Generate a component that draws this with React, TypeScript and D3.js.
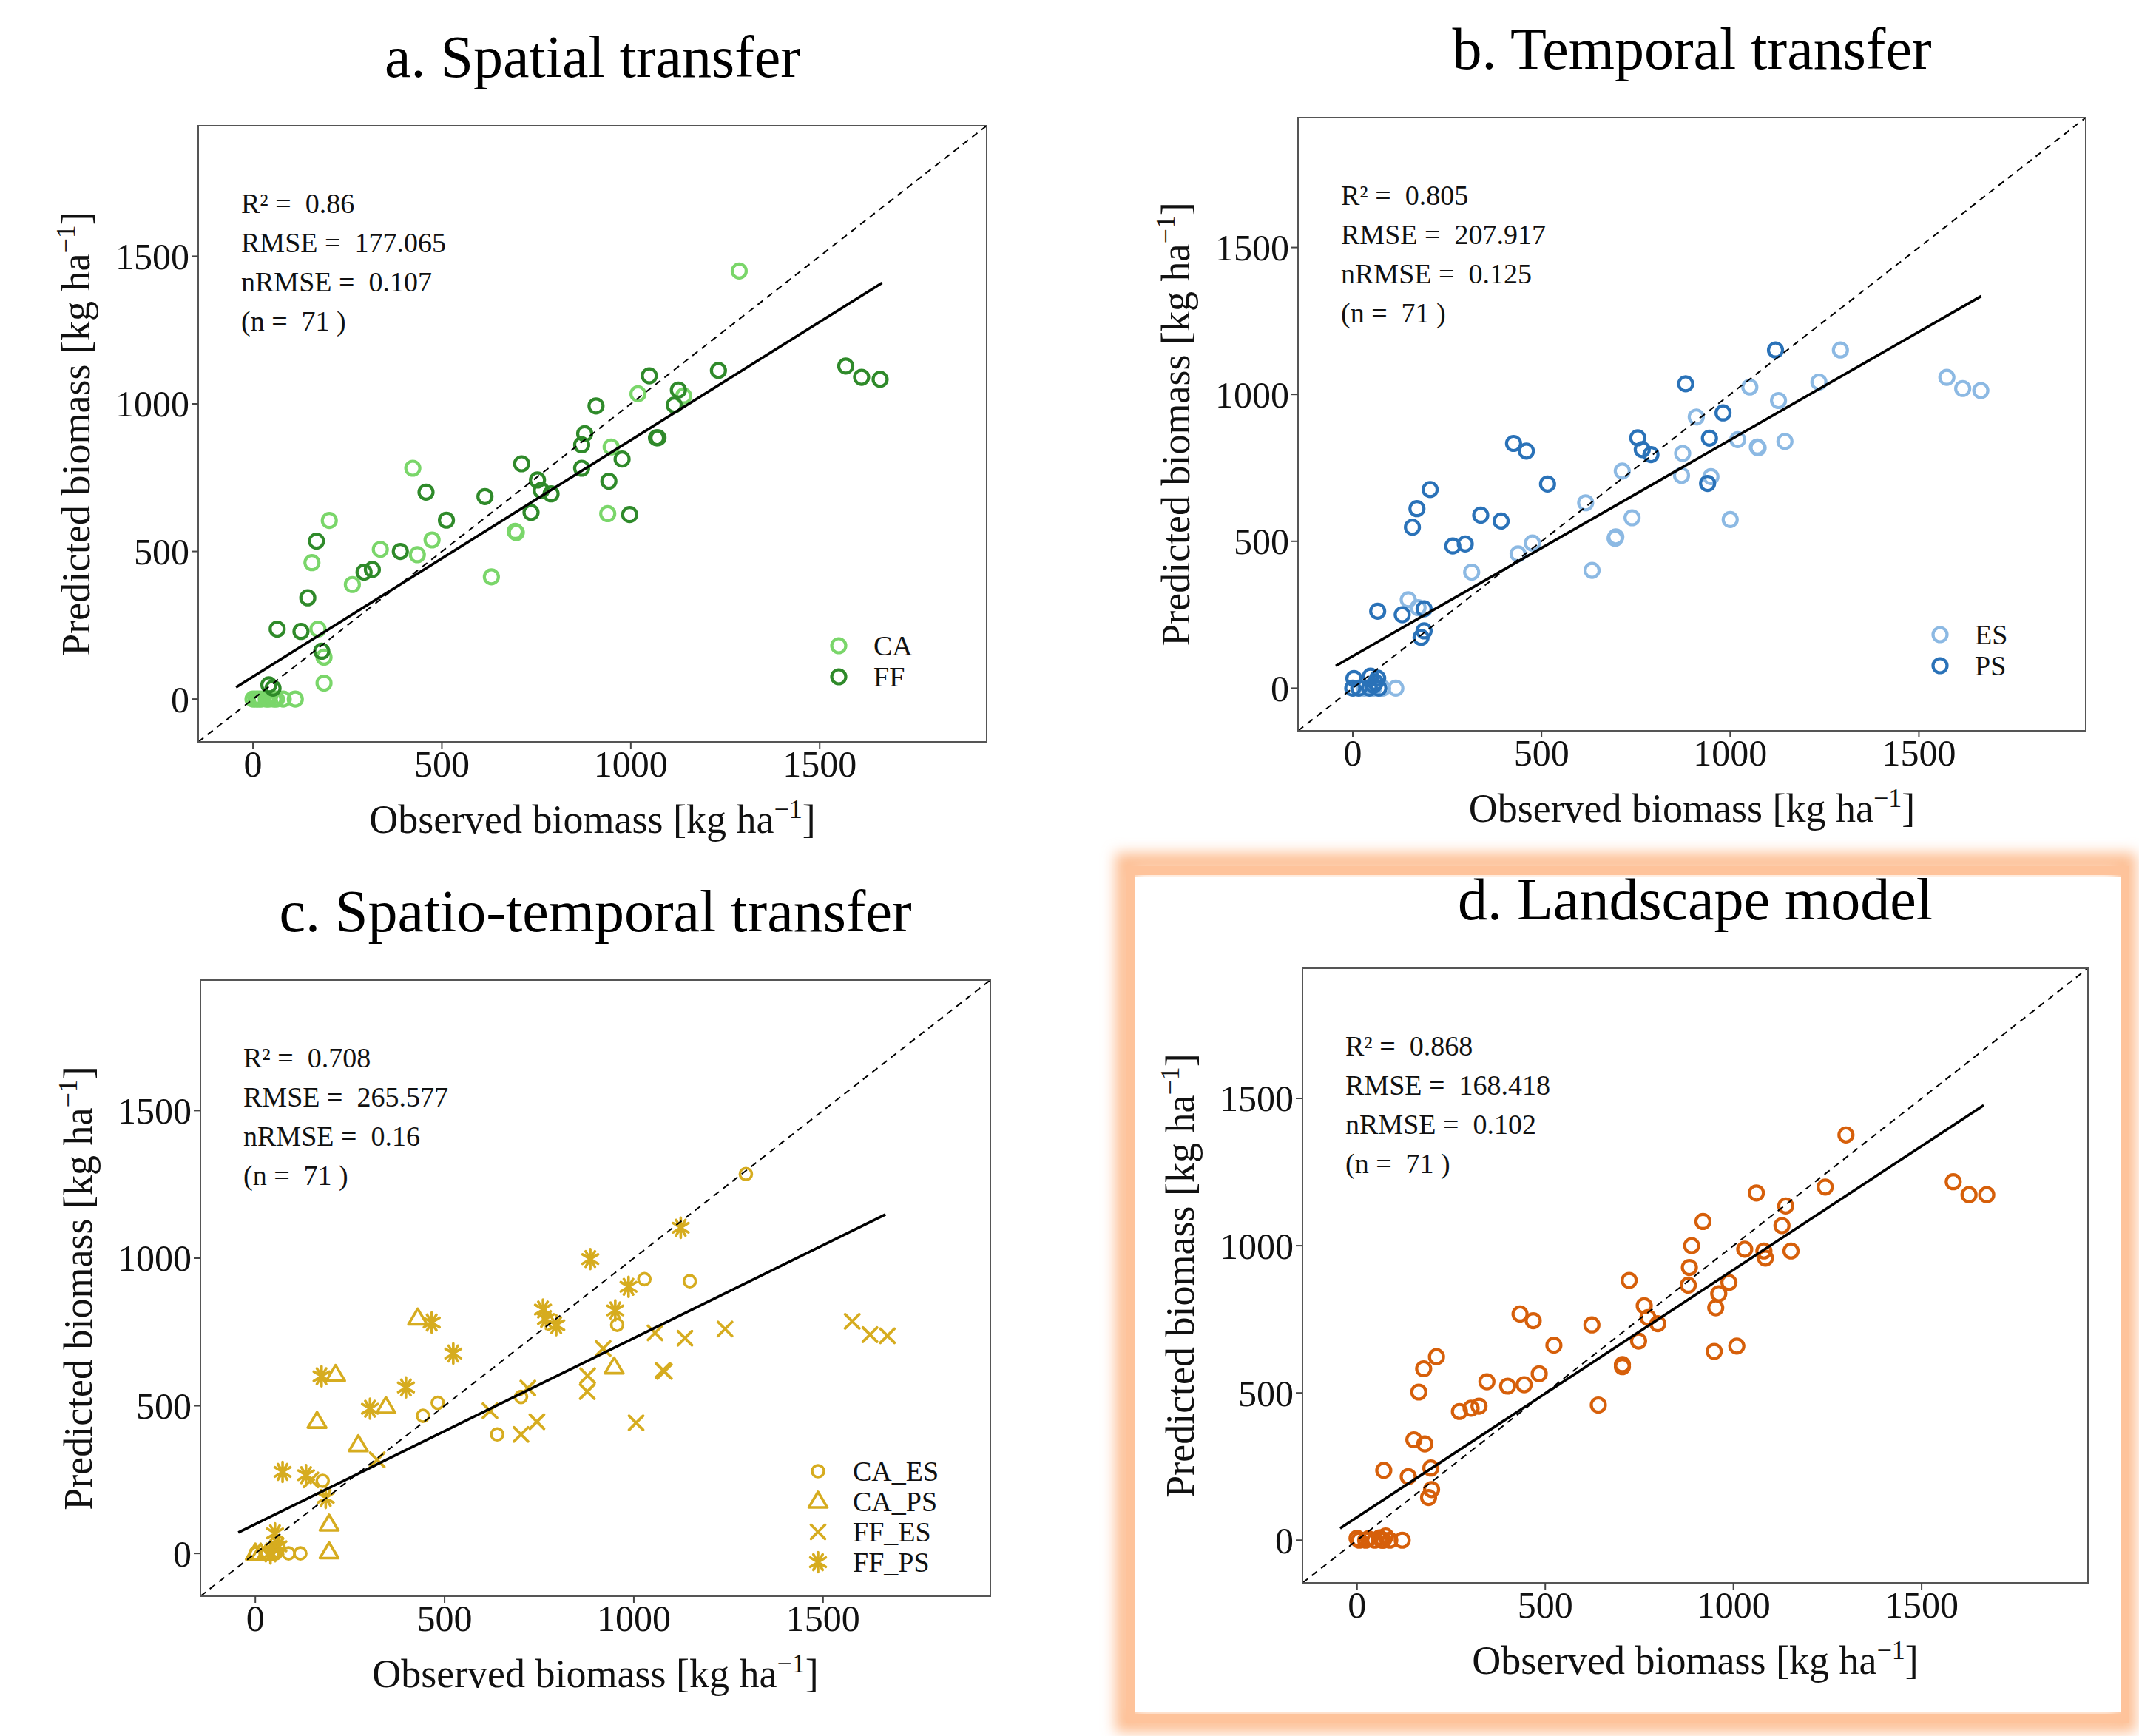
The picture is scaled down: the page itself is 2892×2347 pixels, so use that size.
import * as d3 from "d3";

// ── Shared axis settings ───────────────────────────────────────────────────────
const DOMAIN: [number, number] = [-145, 1942];
const TICKS = [0, 500, 1000, 1500];
const FIT_RANGE: [number, number] = [-45, 1665];

type Pt = [number, number]; // [observed, predicted]
type Shape = "circle" | "triangle" | "cross" | "asterisk";

// ── a. Spatial transfer ────────────────────────────────────────────────────────
const spatialCA: Pt[] = [
  [1287, 1450], [1019, 1034], [1140, 1027], [948, 854], [423, 782], [202, 605],
  [474, 539], [694, 568], [697, 564], [337, 507], [435, 489], [156, 462],
  [263, 388], [631, 414], [939, 628], [172, 237], [188, 142], [188, 54],
  [0, 0], [8, 0], [15, 0], [22, 0], [35, 0], [42, 0], [55, 0], [62, 0], [80, 0], [112, 0],
];
const spatialFF: Pt[] = [
  [1569, 1128], [1611, 1090], [1660, 1083], [1232, 1113], [1049, 1095], [1126, 1047],
  [1115, 996], [908, 993], [878, 899], [870, 861], [1068, 885], [1072, 885],
  [977, 813], [870, 782], [942, 738], [711, 797], [753, 742], [763, 707],
  [789, 695], [736, 632], [997, 625], [614, 686], [458, 701], [512, 606],
  [390, 500], [294, 430], [316, 439], [168, 535], [145, 343], [64, 237],
  [127, 229], [182, 162], [42, 48], [53, 37],
];
const spatialFit: Pt = [76, 0.801]; // intercept, slope
const spatialStats = ["0.86", "177.065", "0.107", "71"];

// ── b. Temporal transfer ───────────────────────────────────────────────────────
const temporalES: Pt[] = [
  [1292, 1151], [1235, 1042], [1052, 1025], [1128, 979], [1574, 1058], [1616, 1020],
  [1664, 1013], [910, 923], [1020, 846], [1072, 821], [1074, 818], [1145, 840],
  [874, 799], [871, 724], [949, 720], [714, 739], [617, 631], [740, 580],
  [1000, 574], [697, 515], [695, 510], [476, 494], [438, 457], [315, 395],
  [634, 401], [147, 301], [173, 274], [114, 0], [79, 0], [30, 0], [55, 0],
];
const temporalPS: Pt[] = [
  [1120, 1151], [882, 1036], [981, 937], [945, 851], [755, 852], [767, 812],
  [790, 795], [940, 697], [426, 833], [460, 807], [516, 695], [205, 676],
  [170, 611], [158, 548], [339, 589], [393, 569], [265, 484], [298, 491],
  [66, 262], [131, 250], [189, 270], [189, 195], [181, 173], [3, 33],
  [47, 41], [66, 34], [60, 20], [0, 0], [16, 0], [44, 0], [69, 0], [55, 10],
];
const temporalFit: Pt = [109, 0.736];
const temporalStats = ["0.805", "207.917", "0.125", "71"];

// ── c. Spatio-temporal transfer ────────────────────────────────────────────────
const stCA_ES: Pt[] = [
  [1296, 1285], [1028, 929], [1148, 922], [956, 774], [482, 510], [443, 466],
  [702, 530], [639, 403], [178, 246], [0, 0], [27, 0], [54, 0], [88, 0], [119, 0], [61, 24],
];
const stCA_PS: Pt[] = [
  [429, 796], [212, 605], [948, 630], [345, 496], [163, 446], [272, 367],
  [195, 98], [195, 4], [0, 0], [14, 0], [30, 0],
];
const stFF_ES: Pt[] = [
  [1577, 786], [1624, 741], [1670, 737], [1241, 760], [1056, 747], [1135, 729],
  [919, 694], [878, 602], [877, 548], [1077, 620], [1081, 616], [720, 560],
  [744, 446], [702, 403], [620, 483], [1006, 442], [322, 317], [147, 249],
];
const stFF_PS: Pt[] = [
  [1124, 1103], [885, 997], [986, 903], [951, 823], [760, 826], [768, 794],
  [795, 773], [466, 782], [523, 677], [398, 562], [303, 490], [175, 600],
  [72, 276], [134, 265], [186, 188], [52, 68], [61, 24], [40, 0],
];
const stFit: Pt = [99, 0.63];
const stStats = ["0.708", "265.577", "0.16", "71"];

// ── d. Landscape model ─────────────────────────────────────────────────────────
const landscape: Pt[] = [
  [1299, 1376], [1584, 1217], [1626, 1173], [1673, 1173], [1244, 1199], [1061, 1179],
  [1139, 1135], [1129, 1068], [919, 1082], [889, 1000], [1030, 988], [1081, 982],
  [1085, 958], [1153, 982], [883, 926], [880, 866], [988, 875], [961, 837],
  [953, 789], [949, 641], [1009, 659], [723, 882], [763, 796], [773, 756],
  [799, 735], [748, 676], [624, 731], [523, 662], [705, 596], [705, 589],
  [641, 459], [433, 768], [468, 745], [484, 565], [345, 538], [400, 523],
  [444, 528], [272, 437], [303, 448], [324, 455], [211, 623], [177, 582],
  [164, 503], [151, 341], [180, 327], [71, 237], [136, 216], [196, 245],
  [198, 172], [190, 145], [6, 0], [23, 0], [47, 0], [66, 0], [76, 14],
  [87, 0], [120, 0], [0, 7], [30, 5], [60, 8], [70, 0],
];
const landscapeFit: Pt = [78, 0.84];
const landscapeStats = ["0.868", "168.418", "0.102", "71"];

// ── Colours ────────────────────────────────────────────────────────────────────
const LIGHT_GREEN = "#7ad66a";
const DARK_GREEN = "#2f8a2a";
const LIGHT_BLUE = "#8cb9e3";
const DARK_BLUE = "#2a72b8";
const GOLD = "#d6ac1f";
const ORANGE = "#d65f0a";

const FONT = "'Liberation Serif', 'DejaVu Serif', serif";

interface Series {
  label: string;
  color: string;
  shape: Shape;
  points: Pt[];
}

interface PanelCfg {
  title: string;
  left: number;
  top: number;
  width: number;
  height: number;
  series: Series[];
  fit: Pt;
  stats: string[];
  legendRight: number; // distance of legend keys from box right
  legendFirst: number; // distance of first key above box bottom
}

const panels: PanelCfg[] = [
  {
    title: "a. Spatial transfer",
    left: 268, top: 170, width: 1066, height: 833,
    series: [
      { label: "CA", color: LIGHT_GREEN, shape: "circle", points: spatialCA },
      { label: "FF", color: DARK_GREEN, shape: "circle", points: spatialFF },
    ],
    fit: spatialFit, stats: spatialStats, legendRight: 200, legendFirst: 130,
  },
  {
    title: "b. Temporal transfer",
    left: 1755, top: 159, width: 1065, height: 829,
    series: [
      { label: "ES", color: LIGHT_BLUE, shape: "circle", points: temporalES },
      { label: "PS", color: DARK_BLUE, shape: "circle", points: temporalPS },
    ],
    fit: temporalFit, stats: temporalStats, legendRight: 197, legendFirst: 130,
  },
  {
    title: "c. Spatio-temporal transfer",
    left: 271, top: 1325, width: 1068, height: 833,
    series: [
      { label: "CA_ES", color: GOLD, shape: "circle", points: stCA_ES },
      { label: "CA_PS", color: GOLD, shape: "triangle", points: stCA_PS },
      { label: "FF_ES", color: GOLD, shape: "cross", points: stFF_ES },
      { label: "FF_PS", color: GOLD, shape: "asterisk", points: stFF_PS },
    ],
    fit: stFit, stats: stStats, legendRight: 233, legendFirst: 169,
  },
  {
    title: "d. Landscape model",
    left: 1761, top: 1309, width: 1062, height: 831,
    series: [{ label: "", color: ORANGE, shape: "circle", points: landscape }],
    fit: landscapeFit, stats: landscapeStats, legendRight: 0, legendFirst: 0,
  },
];

// ── Marker glyphs ──────────────────────────────────────────────────────────────
function Marker({ x, y, shape, color, small }: { x: number; y: number; shape: Shape; color: string; small?: boolean }) {
  if (shape === "circle") {
    return <circle cx={x} cy={y} r={small ? 8 : 9.5} fill="none" stroke={color} strokeWidth={small ? 3.6 : 4.2} />;
  }
  if (shape === "triangle") {
    return (
      <path
        d={`M${x},${y - 13} L${x + 12.5},${y + 8} L${x - 12.5},${y + 8} Z`}
        fill="none" stroke={color} strokeWidth={3.6} strokeLinejoin="round"
      />
    );
  }
  if (shape === "cross") {
    const s = 9.5;
    return (
      <path d={`M${x - s},${y - s} L${x + s},${y + s} M${x - s},${y + s} L${x + s},${y - s}`}
        stroke={color} strokeWidth={3.8} strokeLinecap="round" />
    );
  }
  const v = 13.5, d = 10.5;
  return (
    <path
      d={`M${x},${y - v} L${x},${y + v} M${x - d},${y - d * 0.6} L${x + d},${y + d * 0.6} M${x - d},${y + d * 0.6} L${x + d},${y - d * 0.6} M${x - d * 0.6},${y - d} L${x + d * 0.6},${y + d} M${x - d * 0.6},${y + d} L${x + d * 0.6},${y - d}`}
      stroke={color} strokeWidth={3.6} strokeLinecap="round"
    />
  );
}

// ── One scatter panel ──────────────────────────────────────────────────────────
function Panel({ cfg }: { cfg: PanelCfg }) {
  const { left, top, width, height } = cfg;
  const x = d3.scaleLinear().domain(DOMAIN).range([left, left + width]);
  const y = d3.scaleLinear().domain(DOMAIN).range([top + height, top]);
  const cx = left + width / 2;
  const cy = top + height / 2;

  const fitLine = d3.line<number>()
    .x((v) => x(v))
    .y((v) => y(cfg.fit[0] + cfg.fit[1] * v));

  const statLines = [
    `R² =  ${cfg.stats[0]}`,
    `RMSE =  ${cfg.stats[1]}`,
    `nRMSE =  ${cfg.stats[2]}`,
    `(n =  ${cfg.stats[3]} )`,
  ];

  const isC = cfg.series.length > 2;

  return (
    <g fontFamily={FONT}>
      {/* title */}
      <text x={cx} y={top - 66} textAnchor="middle" fontSize={80} fill="#000">{cfg.title}</text>

      {/* points */}
      {cfg.series.map((s) =>
        s.points.map((p, i) => (
          <Marker key={s.label + i} x={x(p[0])} y={y(p[1])} shape={s.shape} color={s.color} small={isC} />
        ))
      )}

      {/* 1:1 line */}
      <line x1={x(DOMAIN[0])} y1={y(DOMAIN[0])} x2={x(DOMAIN[1])} y2={y(DOMAIN[1])}
        stroke="#000" strokeWidth={2} strokeDasharray="9 7" />

      {/* regression line */}
      <path d={fitLine(FIT_RANGE) ?? ""} stroke="#000" strokeWidth={3.6} fill="none" />

      {/* frame */}
      <rect x={left} y={top} width={width} height={height} fill="none" stroke="#555" strokeWidth={2} />

      {/* ticks */}
      {TICKS.map((t) => (
        <g key={"x" + t}>
          <line x1={x(t)} x2={x(t)} y1={top + height} y2={top + height + 9} stroke="#444" strokeWidth={2} />
          <text x={x(t)} y={top + height + 47} textAnchor="middle" fontSize={50} fill="#111">{t}</text>
        </g>
      ))}
      {TICKS.map((t) => (
        <g key={"y" + t}>
          <line x1={left - 9} x2={left} y1={y(t)} y2={y(t)} stroke="#444" strokeWidth={2} />
          <text x={left - 12} y={y(t)} dy="0.35em" textAnchor="end" fontSize={50} fill="#111">{t}</text>
        </g>
      ))}

      {/* axis titles */}
      <text x={cx} y={top + height + 123} textAnchor="middle" fontSize={54} fill="#111">
        Observed biomass [kg ha<tspan fontSize={36} dy={-20}>−1</tspan><tspan dy={20}>]</tspan>
      </text>
      <text transform={`translate(${left - 147},${cy}) rotate(-90)`} textAnchor="middle" fontSize={54} fill="#111">
        Predicted biomass [kg ha<tspan fontSize={36} dy={-20}>−1</tspan><tspan dy={20}>]</tspan>
      </text>

      {/* statistics */}
      {statLines.map((s, i) => (
        <text key={s} x={left + 58} y={top + 118 + i * 53} fontSize={38} fill="#111" style={{ whiteSpace: "pre" }}>
          {s}
        </text>
      ))}

      {/* legend */}
      {cfg.legendRight > 0 &&
        cfg.series.map((s, i) => {
          const ky = top + height - cfg.legendFirst + i * (isC ? 41 : 42);
          const kx = left + width - cfg.legendRight;
          return (
            <g key={"lg" + s.label}>
              <Marker x={kx} y={ky} shape={s.shape} color={s.color} small={isC} />
              <text x={kx + 47} y={ky + 13} fontSize={38} fill="#111">{s.label}</text>
            </g>
          );
        })}
    </g>
  );
}

export default function App() {
  return (
    <svg
      width={2892}
      height={2347}
      viewBox="0 0 2892 2347"
      style={{ position: "absolute", left: 0, top: 0, background: "#fff" }}
    >
      <defs>
        <filter id="glow" x="-10%" y="-10%" width="120%" height="120%">
          <feGaussianBlur stdDeviation="9" />
        </filter>
      </defs>
      <rect width={2892} height={2347} fill="#fff" />

      {/* highlight frame round panel d */}
      <rect x={1521} y={1166} width={1354} height={1163} fill="none" stroke="#fdbf94" strokeWidth={26} filter="url(#glow)" />
      <rect x={1535} y={1186} width={1332} height={1129} fill="#fff" />
      <rect x={1529} y={1177} width={1344} height={1146} fill="none" stroke="#fec39b" strokeWidth={12} />

      {panels.map((p) => (
        <Panel key={p.title} cfg={p} />
      ))}
    </svg>
  );
}
